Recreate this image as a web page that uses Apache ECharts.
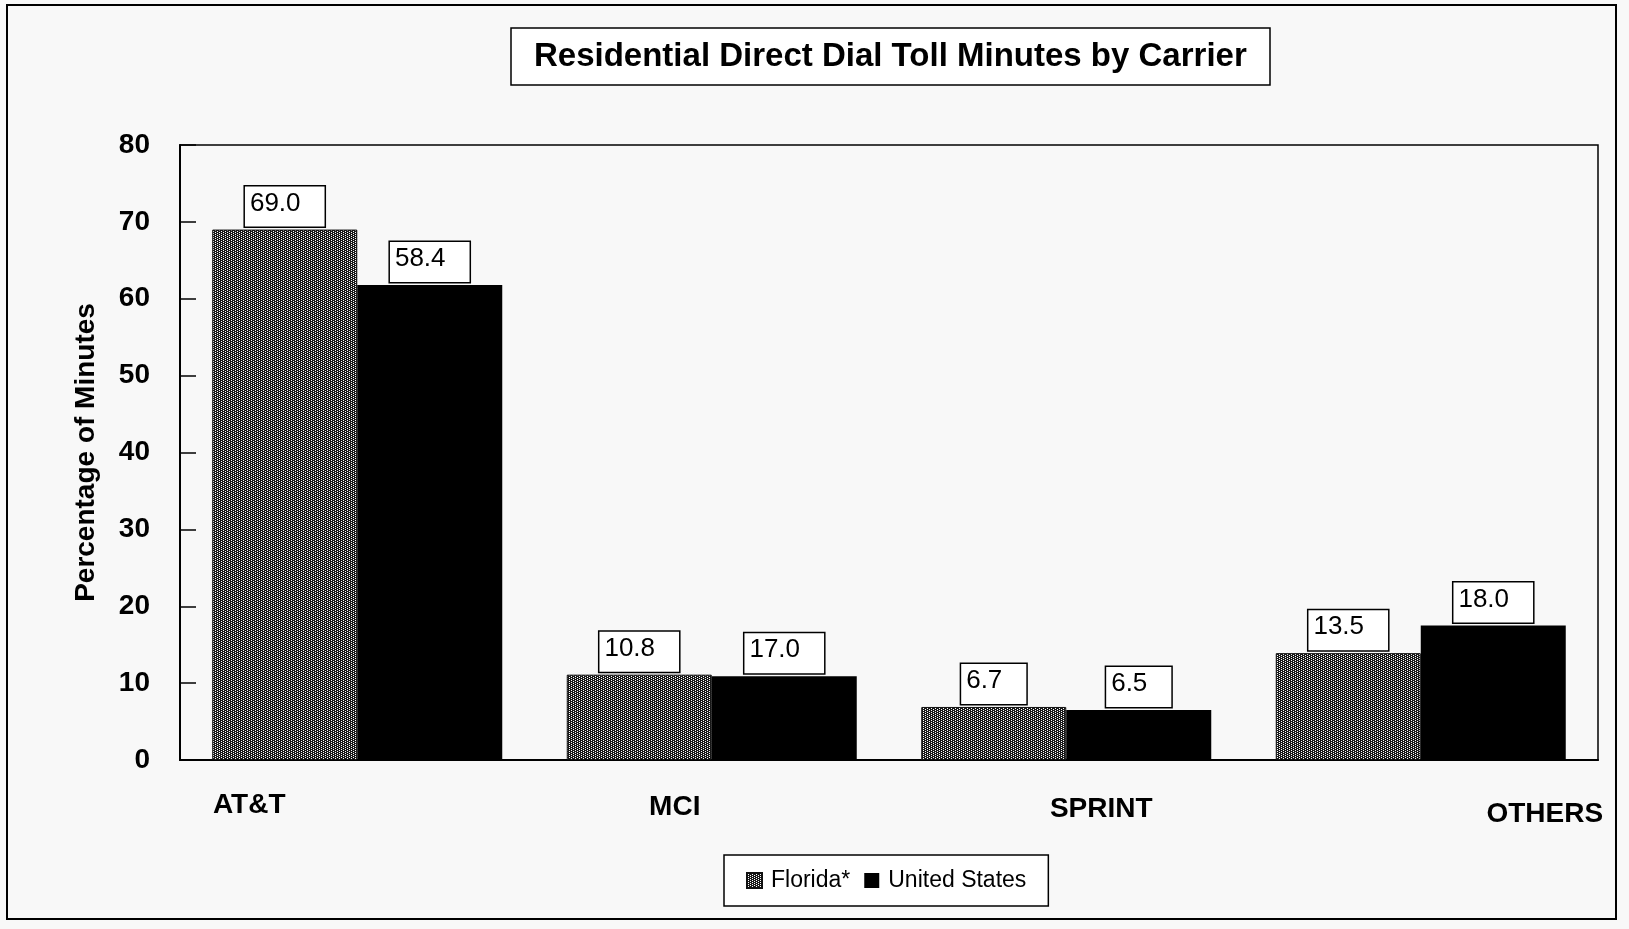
<!DOCTYPE html>
<html>
<head>
<meta charset="utf-8">
<title>Residential Direct Dial Toll Minutes by Carrier</title>
<script src="https://cdn.jsdelivr.net/npm/echarts@6/dist/echarts.min.js"></script>
<style>
  html, body { margin: 0; padding: 0; background: #f8f8f8; }
  #chart { width: 1629px; height: 929px; }
</style>
</head>
<body>
<div id="chart"></div>
<script>
// categories and values as printed on the chart
const carriers = ['AT&T', 'MCI', 'SPRINT', 'OTHERS']
const floridaLabels = [69.0, 10.8, 6.7, 13.5]
const usLabels = [58.4, 17.0, 6.5, 18.0]
// bar heights as drawn in the original (they don't always agree with the printed labels)
const floridaBars = [69.0, 11.1, 6.9, 13.9]
const usBars = [61.8, 10.9, 6.5, 17.5]
const yTicks = [0, 10, 20, 30, 40, 50, 60, 70, 80]

// stipple fill for the Florida bars
function makePattern() {
  const c = document.createElement('canvas')
  c.width = 4
  c.height = 4
  const ctx = c.getContext('2d')
  ctx.fillStyle = '#ffffff'
  ctx.fillRect(0, 0, 4, 4)
  ctx.fillStyle = '#1a1a1a'
  const dots = [[0, 0], [1, 0], [2, 0], [0, 1], [2, 1], [3, 1], [0, 2], [1, 2], [2, 2], [0, 3], [2, 3], [3, 3]]
  dots.forEach(d => ctx.fillRect(d[0], d[1], 1, 1))
  return c
}

const chart = echarts.init(document.getElementById('chart'))

// shift each category label sideways like the original
const labelShift = [-108, -37, 35, 124]
const labelDrop = [0, 2, 4, 9]
const rich = {}
carriers.forEach((c, i) => {
  const s = labelShift[i]
  rich['c' + i] = {
    fontSize: 28,
    fontWeight: 'bold',
    color: '#000',
    fontFamily: 'Liberation Sans, Arial, sans-serif',
    padding: [labelDrop[i], s < 0 ? -2 * s : 0, 0, s > 0 ? 2 * s : 0]
  }
})

const boxLabel = (vals) => ({
  show: true,
  position: 'top',
  distance: 3,
  formatter: p => vals[p.dataIndex].toFixed(1),
  fontSize: 26,
  color: '#000',
  fontFamily: 'Liberation Sans, Arial, sans-serif',
  backgroundColor: '#fff',
  borderColor: '#000',
  borderWidth: 1.5,
  padding: [4, 24, 10, 5]
})

const option = {
  backgroundColor: '#f8f8f8',
  animation: false,
  textStyle: { fontFamily: 'Liberation Sans, Arial, sans-serif' },
  title: {
    text: 'Residential Direct Dial Toll Minutes by Carrier',
    left: 511,
    top: 28,
    padding: [12, 24, 12, 23],
    borderColor: '#000',
    borderWidth: 1.5,
    backgroundColor: '#fff',
    textStyle: {
      fontSize: 33,
      fontWeight: 'bold',
      color: '#000'
    }
  },
  legend: {
    left: 724,
    top: 855,
    padding: [14, 22, 14, 22],
    borderColor: '#000',
    borderWidth: 1.5,
    backgroundColor: '#fff',
    itemWidth: 15,
    itemHeight: 15,
    itemGap: 14,
    icon: 'rect',
    textStyle: {
      fontSize: 23,
      color: '#000',
      padding: [0, 0, 0, 4]
    },
    data: ['Florida*', 'United States']
  },
  grid: {
    left: 180,
    top: 145,
    width: 1418,
    height: 615,
    show: true,
    borderColor: '#000',
    borderWidth: 1.5,
    backgroundColor: 'transparent'
  },
  xAxis: {
    type: 'category',
    data: carriers,
    axisLine: { show: true, lineStyle: { color: '#000', width: 2 } },
    axisTick: { show: false },
    axisLabel: {
      interval: 0,
      margin: 31,
      formatter: (v, i) => '{c' + i + '|' + v + '}',
      rich: rich
    },
    splitLine: { show: false }
  },
  yAxis: {
    type: 'value',
    min: yTicks[0],
    max: yTicks[yTicks.length - 1],
    interval: 10,
    name: 'Percentage of Minutes',
    nameLocation: 'middle',
    nameGap: 80,
    nameTextStyle: {
      fontSize: 28,
      fontWeight: 'bold',
      color: '#000'
    },
    axisLine: { show: true, lineStyle: { color: '#000', width: 2 } },
    axisTick: { show: true, inside: true, length: 16, lineStyle: { color: '#000', width: 1.5 } },
    axisLabel: {
      margin: 30,
      fontSize: 28,
      fontWeight: 'bold',
      color: '#000'
    },
    splitLine: { show: false }
  },
  series: [
    {
      name: 'Florida*',
      type: 'bar',
      barWidth: 145,
      barGap: '0%',
      itemStyle: {
        color: { image: makePattern(), repeat: 'repeat' },
        borderColor: '#111',
        borderWidth: 1
      },
      label: boxLabel(floridaLabels),
      data: floridaBars
    },
    {
      name: 'United States',
      type: 'bar',
      barWidth: 145,
      itemStyle: { color: '#000' },
      label: boxLabel(usLabels),
      data: usBars
    }
  ],
  graphic: [
    {
      type: 'rect',
      z: -1,
      shape: { x: 7, y: 5, width: 1609, height: 914 },
      style: { fill: 'none', stroke: '#000', lineWidth: 2 }
    }
  ]
}

chart.setOption(option)
</script>
</body>
</html>
